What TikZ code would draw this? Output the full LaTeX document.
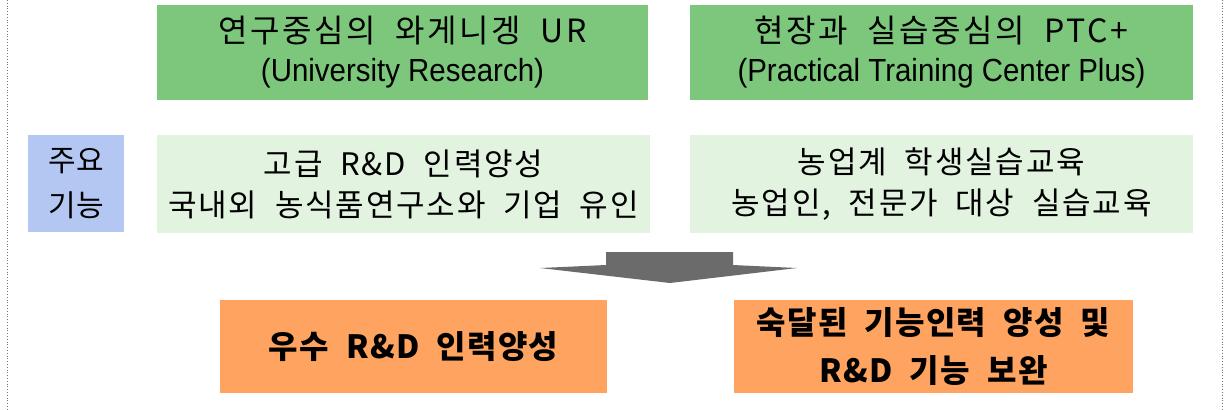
\documentclass[tikz,border=0pt]{standalone}
\usepackage{fontspec}
\setmainfont{Noto Sans CJK KR}
\newfontfamily\narrowfont[FakeStretch=0.92]{Liberation Sans}
\usetikzlibrary{positioning}
\definecolor{headgreen}{HTML}{7CC77C}
\definecolor{palegreen}{HTML}{E2F3E0}
\definecolor{funcblue}{HTML}{B4C7F2}
\definecolor{outorange}{HTML}{FFA460}
\definecolor{arrowgray}{HTML}{6B6B6B}

\begin{document}
\begin{tikzpicture}[x=0.5pt, y=-0.5pt,
    box/.style={inner sep=0pt, align=center, text=black},
    headbox/.style={box, fill=headgreen, minimum height=47.5pt,
      font=\fontsize{16}{19.5}\selectfont\addfontfeatures{LetterSpace=8}},
    funcbox/.style={box, fill=palegreen, minimum height=49pt,
      font=\fontsize{15.5}{20.5}\selectfont\addfontfeatures{LetterSpace=6}},
    tagbox/.style={box, fill=funcblue, minimum width=48pt, minimum height=48.5pt,
      font=\fontsize{15}{22.5}\selectfont},
    outbox/.style={box, fill=outorange, minimum height=46.5pt,
      font=\fontsize{16}{24}\selectfont\bfseries\addfontfeatures{LetterSpace=4}}]
    \useasboundingbox (0,0) rectangle (1225,409);
    % ---- frame: dotted sides only
    \draw[densely dotted, black!55] (7,0) -- (7,409);
    \draw[densely dotted, black!55] (1222,0) -- (1222,409);
    % ---- the two programmes
    \node[headbox, minimum width=245.5pt] (ur) at (402.5,52.5)
      {연구중심의 \ 와게니겡 \ UR\\{\narrowfont\fontsize{16}{19.5}\selectfont (University Research)}};
    \node[headbox, minimum width=251.5pt] (ptc) at (941.5,52.5)
      {현장과 \ 실습중심의 \ PTC+\\{\narrowfont\fontsize{16}{19.5}\selectfont (Practical Training Center Plus)}};
    % ---- main functions
    \node[tagbox] (tag) at (76,183.5) {주요\\기능};
    \node[funcbox, minimum width=246.5pt] (urfunc) at (403.5,184)
      {고급 \ R\&D \ 인력양성\\국내외 \ 농식품연구소와 \ 기업 \ 유인};
    \node[funcbox, minimum width=251.5pt] (ptcfunc) at (941.5,184)
      {농업계 \ 학생실습교육\\농업인, \ 전문가 \ 대상 \ 실습교육};
    % the arrow down to the results
    \fill[arrowgray] (606,252) -- (733,252) -- (733,265) -- (797,268)
      -- (670,283) -- (540,268) -- (606,265) -- cycle;
    % ---- results
    \node[outbox, minimum width=193.5pt] (urout) at (413.5,346.5)
      {우수 \ R\&D \ 인력양성};
    \node[outbox, minimum width=199.5pt] (ptcout) at (933.5,346.5)
      {숙달된 \ 기능인력 \ 양성 \ 및\\R\&D \ 기능 \ 보완};
\end{tikzpicture}
\end{document}
